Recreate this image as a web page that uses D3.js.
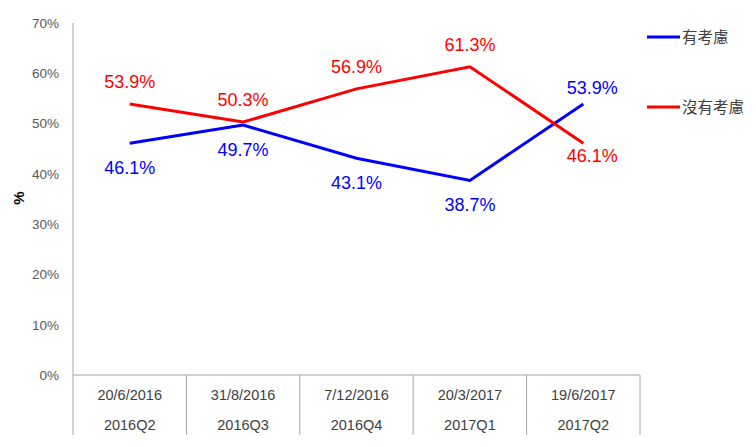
<!DOCTYPE html>
<html><head><meta charset="utf-8">
<script src="https://cdn.jsdelivr.net/npm/d3@7"></script>
<style>body{margin:0;background:#fff}svg{display:block}</style>
</head><body>
<svg id="c" width="756" height="447"></svg>
<script>
const dates = ["20/6/2016","31/8/2016","7/12/2016","20/3/2017","19/6/2017"];
const quarters = ["2016Q2","2016Q3","2016Q4","2017Q1","2017Q2"];
const considered = [46.1, 49.7, 43.1, 38.7, 53.9];
const notConsidered = [53.9, 50.3, 56.9, 61.3, 46.1];
const seriesNames = ["有考慮","沒有考慮"];
const seriesColors = ["#0000ff","#ff0000"];
const yTicks = [0,10,20,30,40,50,60,70];

const svg = d3.select("#c");
const L = 73, R = 640, T = 23, B = 375, tableBottom = 435;
const x = d3.scaleBand().domain(d3.range(dates.length)).range([L, R]).padding(0);
const y = d3.scaleLinear().domain([0, 70]).range([B, T]);
const cx = i => x(i) + x.bandwidth()/2;
const font = "'Liberation Sans', Arial, sans-serif";
const grey = "#a6a6a6";

// Y axis
const yAxis = d3.axisLeft(y).tickValues(yTicks).tickFormat(d => d + "%").tickSize(0).tickPadding(14);
const gy = svg.append("g").attr("transform", `translate(${L},0)`).call(yAxis);
gy.select(".domain").remove();
gy.selectAll("text").attr("font-family", font).attr("font-size", 13.5).attr("fill", "#595959");
svg.append("line").attr("x1", L).attr("x2", L).attr("y1", T).attr("y2", tableBottom).attr("stroke", grey).attr("stroke-width", 1);

// X axis table
svg.append("line").attr("x1", L).attr("x2", R).attr("y1", B).attr("y2", B).attr("stroke", grey).attr("stroke-width", 1);
const cats = d3.range(dates.length);
svg.selectAll(".div").data(cats.map(i => x(i) + x.bandwidth()))
  .enter().append("line").attr("x1", d => d).attr("x2", d => d).attr("y1", B).attr("y2", tableBottom)
  .attr("stroke", grey).attr("stroke-width", 1);
svg.selectAll(".d1").data(dates).enter().append("text")
  .attr("x", (d,i) => cx(i)).attr("y", 400).attr("text-anchor","middle")
  .attr("font-family", font).attr("font-size", 14.5).attr("fill", "#404040").text(d => d);
svg.selectAll(".d2").data(quarters).enter().append("text")
  .attr("x", (d,i) => cx(i)).attr("y", 430).attr("text-anchor","middle")
  .attr("font-family", font).attr("font-size", 14.5).attr("fill", "#404040").text(d => d);

// Y title
svg.append("text").attr("transform", "translate(24,198) rotate(-90)").attr("text-anchor","middle")
  .attr("font-family", font).attr("font-size", 15).attr("font-weight","bold").attr("fill","#000").text("%");

// Lines
const series = [considered, notConsidered];
const line = d3.line().x((d,i) => cx(i)).y(d => y(d));
series.forEach((s, k) => {
  svg.append("path").datum(s).attr("d", line).attr("fill","none")
    .attr("stroke", seriesColors[k]).attr("stroke-width", 3).attr("stroke-linejoin","miter");
});

// Labels
const last = dates.length - 1;
series.forEach((s, k) => {
  const other = series[1-k];
  svg.selectAll(".lab"+k).data(s).enter().append("text")
    .attr("x", (d,i) => cx(i) + (i === last ? 9 : 0))
    .attr("y", (d,i) => {
      const above = d > other[i];
      if (i === last) return above ? y(d) - 10 : y(d) + 19;
      return above ? y(d) - 16 : y(d) + 31;
    })
    .attr("text-anchor","middle").attr("font-family", font).attr("font-size", 18)
    .attr("fill", seriesColors[k]).text(d => d.toFixed(1) + "%");
});

// Legend
const legY = [37, 107];
seriesNames.forEach((n, k) => {
  svg.append("line").attr("x1", 647).attr("x2", 680).attr("y1", legY[k]).attr("y2", legY[k])
    .attr("stroke", seriesColors[k]).attr("stroke-width", 3);
  svg.append("text").attr("x", 682).attr("y", legY[k] + 5.5)
    .attr("font-family", "'Noto Sans CJK TC', 'Noto Sans CJK SC', sans-serif").attr("font-size", 15.5)
    .attr("fill", "#404040").text(n);
});
</script>
</body></html>
